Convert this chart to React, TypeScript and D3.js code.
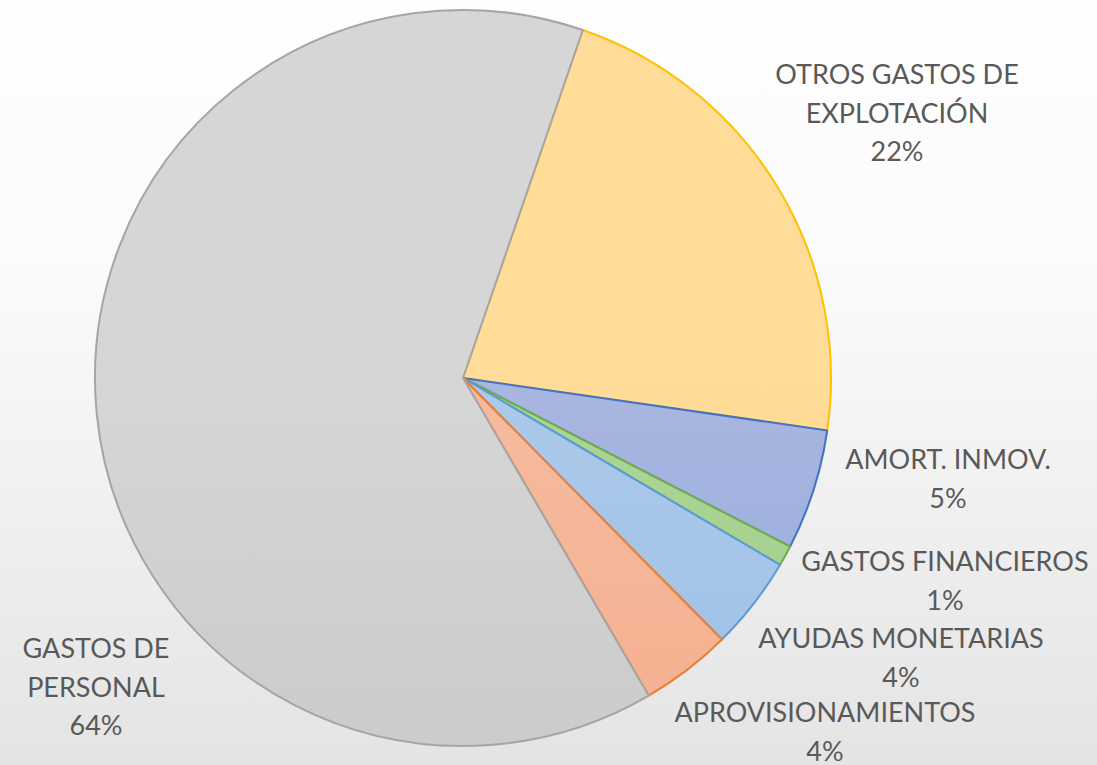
import React from "react";
import * as d3 from "d3";

const categories = [
  "OTROS GASTOS DE EXPLOTACIÓN",
  "AMORT. INMOV.",
  "GASTOS FINANCIEROS",
  "AYUDAS MONETARIAS",
  "APROVISIONAMIENTOS",
  "GASTOS DE PERSONAL",
];
const values = [22.0, 5.3, 0.9, 4.1, 4.0, 63.7];
const labelLines = [
  ["OTROS GASTOS DE", "EXPLOTACIÓN"],
  ["AMORT. INMOV."],
  ["GASTOS FINANCIEROS"],
  ["AYUDAS MONETARIAS"],
  ["APROVISIONAMIENTOS"],
  ["GASTOS DE", "PERSONAL"],
];

// layout (not data)
const W = 1097;
const H = 765;
const CX = 463;
const CY = 378;
const R = 368;
const START = (19 * Math.PI) / 180;
const labelAnchor: [number, number][] = [
  [897, 84],
  [948, 469],
  [945, 571],
  [901, 648],
  [825, 722],
  [96, 658],
];
const LINE_H = 38.7;

const fills = [
  ["#ffdc98", "#ffd37a"],
  ["#a8b6e0", "#889fd8"],
  ["#acd496", "#9ccb83"],
  ["#abc9ea", "#92b8e5"],
  ["#f6bb9f", "#f4a47f"],
  ["#d6d6d6", "#c0c0c0"],
];
const strokes = ["#ffc000", "#4472c4", "#70ad47", "#5b9bd5", "#ed7d31", "#a5a5a5"];

export default function App() {
  const pie = d3
    .pie<number>()
    .sort(null)
    .startAngle(START)
    .endAngle(START + 2 * Math.PI)
    .value((d) => d);
  const arcs = pie(values);
  const arc = d3.arc<d3.PieArcDatum<number>>().innerRadius(0).outerRadius(R);
  const total = d3.sum(values);

  return (
    <svg
      width={W}
      height={H}
      style={{ position: "absolute", left: 0, top: 0 }}
      viewBox={`0 0 ${W} ${H}`}
    >
      <defs>
        <linearGradient id="bg" x1="0" y1="0" x2="0" y2="1">
          <stop offset="0" stopColor="#fefefe" />
          <stop offset="0.35" stopColor="#fbfbfb" />
          <stop offset="1" stopColor="#e4e4e4" />
        </linearGradient>
        {fills.map((f, i) => (
          <linearGradient
            key={i}
            id={`g${i}`}
            gradientUnits="userSpaceOnUse"
            x1={0}
            y1={CY - R}
            x2={0}
            y2={CY + R}
          >
            <stop offset="0" stopColor={f[0]} />
            <stop offset="1" stopColor={f[1]} />
          </linearGradient>
        ))}
      </defs>
      <rect x={0} y={0} width={W} height={H} fill="url(#bg)" />
      <g transform={`translate(${CX},${CY})`}>
        {arcs.map((a, i) => (
          <path
            key={categories[i]}
            d={arc(a) || ""}
            fill={`url(#g${i})`}
            stroke={strokes[i]}
            strokeWidth={2}
            strokeLinejoin="round"
          />
        ))}
      </g>
      <g
        fontFamily="Lato, 'Open Sans', sans-serif"
        fontSize={27}
        fill="#595959"
        textAnchor="middle"
      >
        {categories.map((c, i) => {
          const lines = [...labelLines[i], `${Math.round((values[i] / total) * 100)}%`];
          const [x, y] = labelAnchor[i];
          return (
            <text key={c} x={x} y={y}>
              {lines.map((l, j) => (
                <tspan key={j} x={x} y={y + j * LINE_H}>
                  {l}
                </tspan>
              ))}
            </text>
          );
        })}
      </g>
    </svg>
  );
}
